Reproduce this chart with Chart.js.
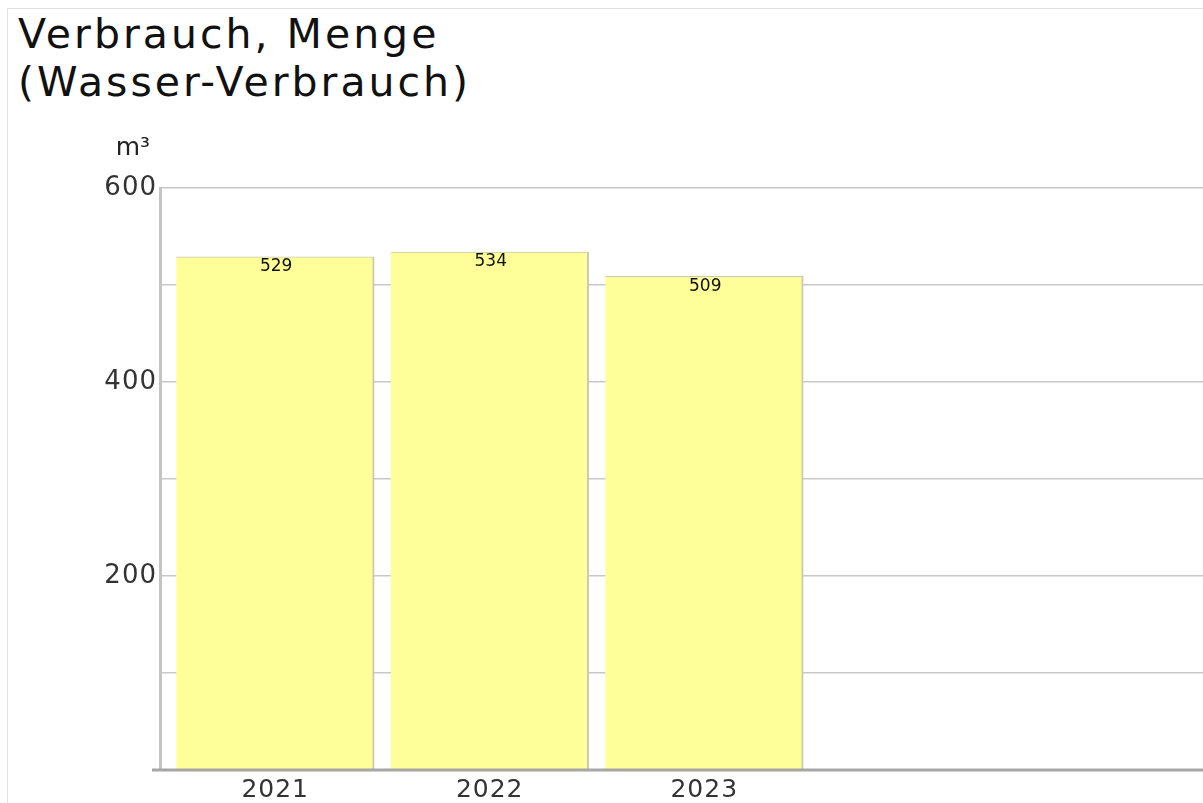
<!DOCTYPE html>
<html lang="de">
<head>
  <meta charset="UTF-8">
  <title>Verbrauch, Menge</title>
  <script src="https://cdn.jsdelivr.net/npm/chart.js"></script>
  <style>
    body {
      margin: 0;
      padding: 0;
      background: #fff;
      font-family: 'DejaVu Sans', Verdana, sans-serif;
      overflow: hidden;
    }
    .frame {
      position: absolute;
      left: 7px;
      top: 8px;
      width: 1196px;
      height: 795px;
      border-left: 1px solid #e2e2e2;
      border-top: 1px solid #e2e2e2;
    }
    .title {
      position: absolute;
      left: 18px;
      top: 10px;
      font-size: 41px;
      line-height: 48px;
      letter-spacing: 3px;
      color: #111;
    }
    .chart-container {
      position: absolute;
      left: 0;
      top: 0;
      width: 1203px;
      height: 803px;
    }
  </style>
</head>
<body>
  <div class="frame"></div>
  <div class="title">Verbrauch, Menge<br>(Wasser-Verbrauch)</div>
  <div class="chart-container">
    <canvas id="chart"></canvas>
  </div>

  <script>
    const years = ['2021', '2022', '2023'];
    const values = [529, 534, 509];
    const unit = 'm³';

    // value labels at the top of each bar, baseline, unit above the axis
    const extras = {
      id: 'extras',
      beforeDraw(chart) {
        chart.ctx.letterSpacing = '1px';
      },
      afterDatasetsDraw(chart) {
        const ctx = chart.ctx;
        const meta = chart.getDatasetMeta(0);
        ctx.save();
        ctx.letterSpacing = '0px';
        ctx.fillStyle = '#111';
        ctx.font = '17px "DejaVu Sans"';
        ctx.textAlign = 'center';
        ctx.textBaseline = 'middle';
        meta.data.forEach((bar, i) => {
          ctx.fillText(values[i], bar.x + 1, bar.y + 10);
        });
        const yScale = chart.scales.y;
        const y0 = yScale.getPixelForValue(0);
        ctx.strokeStyle = '#a6a6a6';
        ctx.lineWidth = 3;
        ctx.beginPath();
        ctx.moveTo(chart.chartArea.left - 8, y0);
        ctx.lineTo(chart.chartArea.right, y0);
        ctx.stroke();
        ctx.fillStyle = '#222';
        ctx.font = '25px "DejaVu Sans"';
        ctx.textAlign = 'right';
        ctx.textBaseline = 'middle';
        ctx.fillText(unit, chart.chartArea.left - 10, 148);
        ctx.restore();
      }
    };

    new Chart(document.getElementById('chart'), {
      type: 'bar',
      data: {
        datasets: [{
          data: values.map((v, i) => ({ x: i, y: v })),
          backgroundColor: '#ffff99',
          borderColor: '#c9c9b4',
          borderWidth: { top: 1, right: 2, left: 0, bottom: 0 },
          borderSkipped: false,
          barThickness: 198
        }]
      },
      options: {
        responsive: true,
        maintainAspectRatio: false,
        animation: false,
        layout: { padding: { top: 188, right: 0, bottom: 0, left: 0 } },
        plugins: {
          legend: { display: false },
          tooltip: { enabled: false }
        },
        scales: {
          x: {
            type: 'linear',
            offset: false,
            min: -0.537,
            max: 4.325,
            grid: { display: false, drawTicks: false },
            border: { display: false },
            afterBuildTicks(scale) {
              scale.ticks = years.map((y, i) => ({ value: i }));
            },
            afterFit(scale) { scale.height = 33; },
            ticks: {
              autoSkip: false,
              maxRotation: 0,
              padding: 5,
              color: '#333',
              font: { family: 'DejaVu Sans', size: 25 },
              callback: (v) => years[v]
            }
          },
          y: {
            min: 0,
            max: 600,
            afterFit(scale) { scale.width = 160; },
            grid: { color: '#c8c8c8', lineWidth: 1.5, drawTicks: false },
            border: { display: true, color: '#c4c4c4', width: 3 },
            ticks: {
              stepSize: 100,
              padding: 3,
              color: '#333',
              font: { family: 'DejaVu Sans', size: 26 },
              callback: (v) => (v > 0 && v % 200 === 0 ? v : '')
            }
          }
        }
      },
      plugins: [extras]
    });
  </script>
</body>
</html>
